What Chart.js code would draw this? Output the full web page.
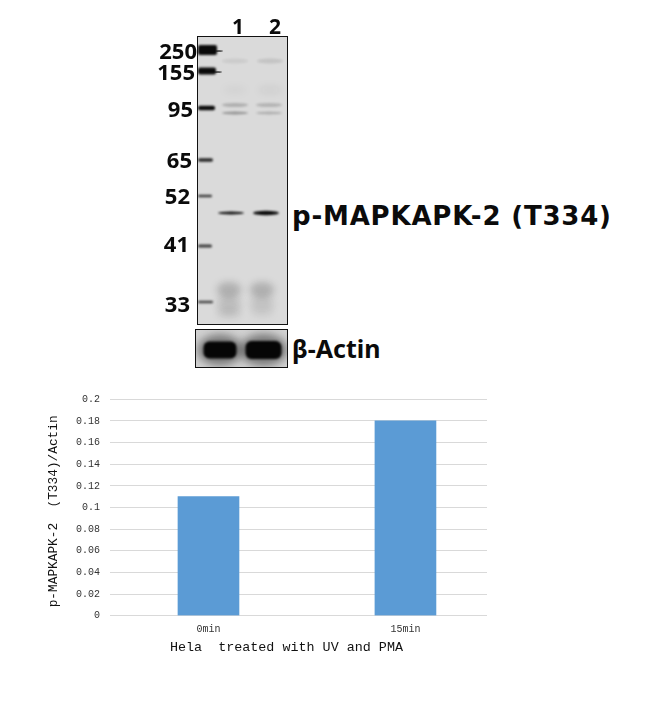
<!DOCTYPE html>
<html>
<head>
<meta charset="utf-8">
<script src="https://cdn.jsdelivr.net/npm/chart.js@4"></script>
<style>
  html, body { margin: 0; padding: 0; background: #fff; }
  #page { position: relative; width: 646px; height: 702px; overflow: hidden; }
  canvas { position: absolute; display: block; }
  .blot { position: absolute; color: #0b0b0b; line-height: 1; white-space: nowrap; font-family: "Noto Sans", sans-serif; font-weight: 700; }
  .frame { position: absolute; border: 1px solid #111; box-sizing: border-box; pointer-events: none; }
</style>
</head>
<body>
<div id="page">
  <canvas id="membrane" width="90" height="288" style="left:197.5px;top:36px"></canvas>
  <canvas id="actin" width="92" height="38" style="left:195.5px;top:329.5px"></canvas>
  <div class="frame" style="left:197px;top:36px;width:91px;height:289px"></div>
  <div class="frame" style="left:195px;top:329px;width:93px;height:39px"></div>
  <canvas id="bars" width="646" height="300" style="left:0;top:380px"></canvas>
</div>
<script>
// western blot: distances in px from the top of the membrane
const markerLabels = ['250', '155', '95', '65', '52', '41', '33'];
const markerDistance = [14, 35, 72, 124, 160, 210, 266];
const markerDarkness = [1, 1, 1, 0.85, 0.75, 0.75, 0.7];
const markerThickness = [10, 7, 4.5, 3.5, 2.5, 3, 2.5];
const markerLength = [19, 18, 17, 15, 14, 14, 15];

const bandDistance = [25, 54, 69, 77, 177, 254, 268, 277];
const lane1Center = [37, 37, 37, 37, 33, 31, 31, 31];
const lane2Center = [72, 72, 71, 71, 68, 64, 64, 64];
const lane1Darkness = [0.07, 0.03, 0.2, 0.32, 0.95, 0.2, 0.12, 0.1];
const lane2Darkness = [0.1, 0.05, 0.18, 0.2, 1, 0.2, 0.1, 0.04];
const lane1Thickness = [5, 8, 4, 3, 3, 16, 16, 10];
const lane2Thickness = [5, 8, 4, 3, 4.5, 16, 16, 10];

const actinCenter = [24, 67.5];
const actinDistance = [20, 20];
const actinWidth = [33, 36];
const actinThickness = [17, 18];

const laneNames = ['1', '2'];
const blotTitle = 'p-MAPKAPK-2 (T334)';
const actinTitle = 'β-Actin';

// densitometry chart
const categories = ['0min', '15min'];
const ratioValues = [0.11, 0.18];
const yTickLabels = ['0', '0.02', '0.04', '0.06', '0.08', '0.1', '0.12', '0.14', '0.16', '0.18', '0.2'];
const yTitle = 'p-MAPKAPK-2  (T334)/Actin';
const xTitle = 'Hela  treated with UV and PMA';

const monoFont = '"Liberation Mono", "DejaVu Sans Mono", monospace';

// blurred ellipse = one band on the film
function smear(ctx, x, y, w, h, blur, alpha) {
  ctx.save();
  ctx.filter = 'blur(' + blur + 'px)';
  ctx.fillStyle = 'rgba(10,10,10,' + alpha + ')';
  ctx.beginPath();
  ctx.ellipse(x, y, w / 2, h / 2, 0, 0, Math.PI * 2);
  ctx.fill();
  ctx.restore();
}

const membranePlugin = {
  id: 'membrane',
  beforeDraw(chart) {
    const ctx = chart.ctx;
    const { x, y } = chart.scales;
    ctx.fillStyle = '#dadada';
    ctx.fillRect(0, 0, chart.width, chart.height);

    markerDistance.forEach((d, i) => {
      const py = y.getPixelForValue(d);
      const len = markerLength[i];
      ctx.save();
      ctx.filter = 'blur(1px)';
      ctx.fillStyle = 'rgba(10,10,10,' + markerDarkness[i] + ')';
      ctx.beginPath();
      ctx.roundRect(x.getPixelForValue(0), py - markerThickness[i] / 2, len, markerThickness[i], 2);
      ctx.fill();
      ctx.restore();
      if (i < 2) smear(ctx, x.getPixelForValue(len + 2), py + 1, 8, 1.6, 0.3, 0.8);
    });
    bandDistance.forEach((d, i) => {
      const py = y.getPixelForValue(d);
      const wide = lane1Thickness[i] > 6;
      const blur = wide ? 3.5 : 0.9;
      const w = wide ? 24 : 26;
      smear(ctx, x.getPixelForValue(lane1Center[i]), py, w, lane1Thickness[i], blur, lane1Darkness[i]);
      smear(ctx, x.getPixelForValue(lane2Center[i]), py, w, lane2Thickness[i], blur, lane2Darkness[i]);
    });
  }
};

const actinPlugin = {
  id: 'actinPanel',
  beforeDraw(chart) {
    const ctx = chart.ctx;
    const { x, y } = chart.scales;
    ctx.fillStyle = '#d2d2d2';
    ctx.fillRect(0, 0, chart.width, chart.height);
    actinCenter.forEach((c, i) => {
      const px = x.getPixelForValue(c);
      const py = y.getPixelForValue(actinDistance[i]);
      smear(ctx, px, py, actinWidth[i] + 12, actinThickness[i] + 14, 4, 0.45);
      ctx.save();
      ctx.filter = 'blur(1.3px)';
      ctx.fillStyle = '#060606';
      ctx.beginPath();
      ctx.roundRect(px - actinWidth[i] / 2, py - actinThickness[i] / 2, actinWidth[i], actinThickness[i], 6);
      ctx.fill();
      ctx.restore();
    });
  }
};

function blotChart(id, plugin, xMax, yMax) {
  return new Chart(document.getElementById(id), {
    type: 'scatter',
    data: { datasets: [{ data: [], pointRadius: 0 }] },
    plugins: [plugin],
    options: {
      responsive: false,
      animation: false,
      devicePixelRatio: 1,
      layout: { padding: 0 },
      plugins: { legend: { display: false }, tooltip: { enabled: false } },
      scales: {
        x: { type: 'linear', display: false, min: 0, max: xMax },
        y: { type: 'linear', display: false, min: 0, max: yMax, reverse: true }
      }
    }
  });
}

blotChart('membrane', membranePlugin, 90, 288);
blotChart('actin', actinPlugin, 92, 38);

new Chart(document.getElementById('bars'), {
  type: 'bar',
  data: {
    datasets: [{
      data: ratioValues.map((v, i) => ({ x: i, y: v })),
      backgroundColor: '#5b9bd5',
      barThickness: 61
    }]
  },
  options: {
    responsive: false,
    animation: false,
    devicePixelRatio: 1,
    layout: { padding: { top: 19.3, right: 159, bottom: 25, left: 0 } },
    plugins: { legend: { display: false }, tooltip: { enabled: false } },
    scales: {
      x: {
        type: 'linear',
        offset: false,
        min: -0.5,
        max: 1.414,
        afterBuildTicks: s => { s.ticks = categories.map((c, i) => ({ value: i })); },
        afterFit: s => { s.height = 39.3; },
        grid: { display: false, drawTicks: false },
        border: { display: false },
        ticks: {
          callback: (v, i) => categories[i],
          autoSkip: false,
          maxRotation: 0,
          padding: 8,
          color: '#333',
          font: { family: monoFont, size: 10 }
        },
        title: {
          display: true,
          // trailing spaces pull the centred caption left, as in the original
          text: xTitle + '\u00a0\u00a0\u00a0',
          color: '#111',
          padding: { top: 3, bottom: 0 },
          font: { family: monoFont, size: 13.4 }
        }
      },
      y: {
        min: 0,
        max: 0.2,
        afterBuildTicks: s => { s.ticks = yTickLabels.map(t => ({ value: parseFloat(t) })); },
        afterFit: s => { s.width = 110; },
        grid: { color: '#d9d9d9', lineWidth: 1, drawTicks: false },
        border: { display: false },
        ticks: {
          callback: (v, i) => yTickLabels[i],
          padding: 10,
          color: '#333',
          font: { family: monoFont, size: 10 }
        },
        title: {
          display: true,
          text: yTitle + '\u00a0',
          color: '#111',
          padding: { top: 46, bottom: 0 },
          font: { family: monoFont, size: 12.8 }
        }
      }
    }
  }
});

// text around the blot
const page = document.getElementById('page');
function addLabel(text, right, left, centerY, size, spacing, family) {
  const el = document.createElement('div');
  el.className = 'blot';
  el.textContent = text;
  el.style.fontSize = size + 'px';
  el.style.letterSpacing = (spacing || 0) + 'px';
  if (family) el.style.fontFamily = family;
  if (right !== null) el.style.right = (646 - right) + 'px';
  else el.style.left = left + 'px';
  el.style.top = (centerY - size / 2) + 'px';
  page.appendChild(el);
}
const markerRightEdge = [197, 195, 193, 192, 190, 189, 190];
const markerLabelY = [50, 71, 108, 159, 195, 243, 303];
markerLabels.forEach((t, i) => addLabel(t, markerRightEdge[i], null, markerLabelY[i], 22));
addLabel(laneNames[0], null, 232, 26, 21);
addLabel(laneNames[1], null, 269, 26, 21);
addLabel(blotTitle, null, 292, 216, 26, 0.8, '"DejaVu Sans", sans-serif');
addLabel(actinTitle, null, 292, 348, 25);
</script>
</body>
</html>
